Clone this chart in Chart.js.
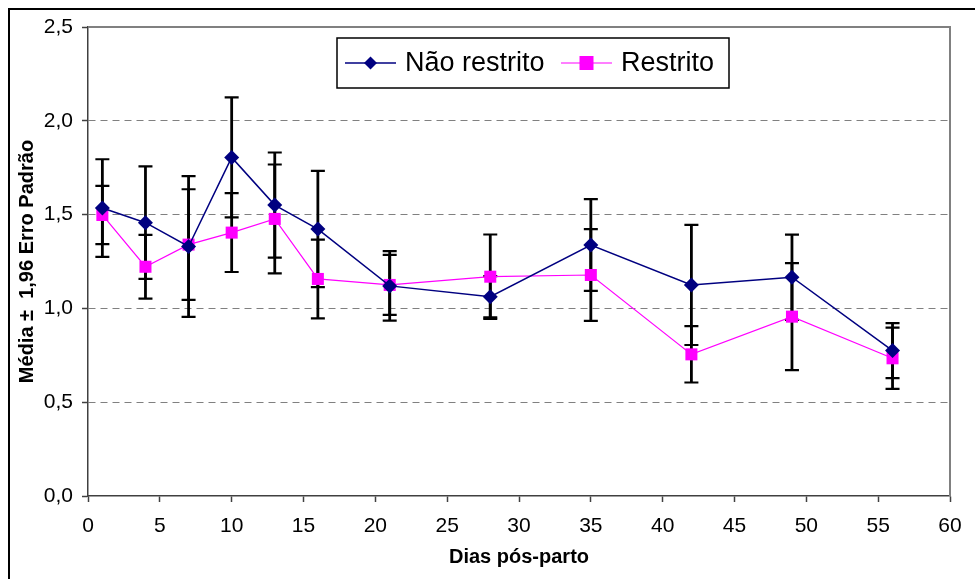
<!DOCTYPE html>
<html>
<head>
<meta charset="utf-8">
<script src="https://cdn.jsdelivr.net/npm/chart.js@4"></script>
<style>
  html, body { margin: 0; padding: 0; background: #fff; }
</style>
</head>
<body>
<canvas id="chart" width="975" height="579"></canvas>
<script>
// dias pós-parto
const days = [1, 4, 7, 10, 13, 16, 21, 28, 35, 42, 49, 56];

// médias e meia-largura (1,96 x erro padrão)
const naoRestrito    = [1.535, 1.457, 1.33, 1.805, 1.551, 1.423, 1.12, 1.062, 1.338, 1.125, 1.166, 0.775];
const naoRestritoErr = [0.26, 0.30, 0.375, 0.32, 0.28, 0.31, 0.185, 0.11, 0.245, 0.32, 0.227, 0.147];
const restrito       = [1.498, 1.222, 1.34, 1.404, 1.477, 1.157, 1.125, 1.169, 1.178, 0.755, 0.956, 0.734];
const restritoErr    = [0.155, 0.17, 0.295, 0.21, 0.29, 0.21, 0.16, 0.225, 0.245, 0.15, 0.285, 0.163];

const seriesNames = ['Não restrito', 'Restrito'];
const yTicks = [0, 0.5, 1, 1.5, 2, 2.5];
const xTicks = [0, 5, 10, 15, 20, 25, 30, 35, 40, 45, 50, 55, 60];

const FONT = '"Liberation Sans", Arial, sans-serif';
const fmt = v => v.toFixed(1).replace('.', ',');

const toPoints = vals => days.map((d, i) => ({ x: d, y: vals[i] }));

// moldura externa + borda da área do gráfico
const framePlugin = {
  id: 'frame',
  beforeDraw(chart) {
    const ctx = chart.ctx;
    ctx.save();
    ctx.fillStyle = '#fff';
    ctx.fillRect(0, 0, chart.width, chart.height);
    ctx.strokeStyle = '#000';
    ctx.lineWidth = 2;
    ctx.beginPath();
    ctx.moveTo(9, chart.height + 5);
    ctx.lineTo(9, 9);
    ctx.lineTo(chart.width + 5, 9);
    ctx.stroke();
    ctx.restore();
  },
  beforeDatasetsDraw(chart) {
    const { ctx, chartArea: a } = chart;
    ctx.save();
    ctx.strokeStyle = '#808080';
    ctx.lineWidth = 2;
    ctx.beginPath();
    ctx.moveTo(a.left, a.top);
    ctx.lineTo(a.right, a.top);
    ctx.lineTo(a.right, a.bottom);
    ctx.stroke();
    ctx.restore();
  }
};

// barras de erro desenhadas pelas escalas
const errorBarPlugin = {
  id: 'errorBars',
  beforeDatasetsDraw(chart) {
    const { ctx, scales: { x, y } } = chart;
    ctx.save();
    ctx.strokeStyle = '#000';
    chart.data.datasets.forEach(ds => {
      ds.data.forEach((p, i) => {
        const e = ds.errors[i];
        const px = x.getPixelForValue(p.x);
        const top = y.getPixelForValue(p.y + e);
        const bot = y.getPixelForValue(p.y - e);
        ctx.lineWidth = 2.8;
        ctx.beginPath();
        ctx.moveTo(px, top);
        ctx.lineTo(px, bot);
        ctx.stroke();
        ctx.lineWidth = 2.2;
        ctx.beginPath();
        ctx.moveTo(px - 7, top);
        ctx.lineTo(px + 7, top);
        ctx.moveTo(px - 7, bot);
        ctx.lineTo(px + 7, bot);
        ctx.stroke();
      });
    });
    ctx.restore();
  }
};

// legenda com caixa, como no original
const legendBoxPlugin = {
  id: 'legendBox',
  afterDraw(chart) {
    const ctx = chart.ctx;
    const bx = 337, by = 38, bw = 392, bh = 50;
    const cy = by + 25;
    const starts = [345, 561];
    ctx.save();
    ctx.fillStyle = '#fff';
    ctx.fillRect(bx, by, bw, bh);
    ctx.strokeStyle = '#000';
    ctx.lineWidth = 1.5;
    ctx.strokeRect(bx, by, bw, bh);
    chart.data.datasets.forEach((ds, i) => {
      const x0 = starts[i];
      ctx.strokeStyle = ds.borderColor;
      ctx.lineWidth = ds.borderWidth;
      ctx.beginPath();
      ctx.moveTo(x0, cy);
      ctx.lineTo(x0 + 51, cy);
      ctx.stroke();
      const mx = x0 + 25.5;
      ctx.fillStyle = ds.pointBackgroundColor;
      ctx.beginPath();
      if (ds.pointStyle === 'rectRot') {
        const r = 6.5;
        ctx.moveTo(mx, cy - r);
        ctx.lineTo(mx + r, cy);
        ctx.lineTo(mx, cy + r);
        ctx.lineTo(mx - r, cy);
        ctx.closePath();
      } else {
        ctx.rect(mx - 7, cy - 7, 14, 14);
      }
      ctx.fill();
      ctx.fillStyle = '#000';
      ctx.font = '27px ' + FONT;
      ctx.textBaseline = 'middle';
      ctx.textAlign = 'left';
      ctx.fillText(ds.label, x0 + 60, cy + 1);
    });
    ctx.restore();
  }
};

new Chart(document.getElementById('chart'), {
  type: 'line',
  data: {
    datasets: [
      {
        label: seriesNames[0],
        data: toPoints(naoRestrito),
        errors: naoRestritoErr,
        borderColor: '#000080',
        backgroundColor: '#000080',
        pointBackgroundColor: '#000080',
        pointBorderColor: '#000080',
        borderWidth: 1.5,
        pointStyle: 'rectRot',
        pointRadius: 7.5,
        pointBorderWidth: 0,
        tension: 0
      },
      {
        label: seriesNames[1],
        data: toPoints(restrito),
        errors: restritoErr,
        borderColor: '#FF00FF',
        backgroundColor: '#FF00FF',
        pointBackgroundColor: '#FF00FF',
        pointBorderColor: '#FF00FF',
        borderWidth: 1.2,
        pointStyle: 'rect',
        pointRadius: 8.5,
        pointBorderWidth: 0,
        tension: 0
      }
    ]
  },
  options: {
    responsive: false,
    animation: false,
    layout: { padding: { left: 0, top: 27, right: 25, bottom: 0 } },
    plugins: {
      legend: { display: false },
      tooltip: { enabled: false }
    },
    scales: {
      x: {
        type: 'linear',
        min: 0,
        max: 60,
        afterBuildTicks: s => { s.ticks = xTicks.map(v => ({ value: v })); },
        afterFit: s => { s.height = 83; },
        ticks: {
          color: '#000',
          font: { family: FONT, size: 21 },
          padding: 12,
          maxRotation: 0,
          callback: v => String(v)
        },
        grid: {
          drawOnChartArea: false,
          tickLength: 6,
          tickColor: '#404040',
          tickWidth: 1.5
        },
        border: { color: '#404040', width: 1.5 },
        title: {
          display: true,
          text: 'Dias pós-parto',
          color: '#000',
          font: { family: FONT, size: 20, weight: 'bold' },
          padding: { top: 0, bottom: 10 }
        }
      },
      y: {
        min: 0,
        max: 2.5,
        afterBuildTicks: s => { s.ticks = yTicks.map(v => ({ value: v })); },
        afterFit: s => { s.width = 88; },
        ticks: {
          color: '#000',
          font: { family: FONT, size: 21 },
          padding: 9,
          callback: v => fmt(v)
        },
        grid: {
          color: c => (c.tick && (c.tick.value === 0 || c.tick.value === 2.5)) ? 'rgba(0,0,0,0)' : '#808080',
          lineWidth: 1,
          tickLength: 6,
          tickColor: '#404040',
          tickWidth: 1.5
        },
        border: { color: '#404040', width: 1.5, dash: [7, 5] },
        title: {
          display: true,
          text: 'Média ±  1,96 Erro Padrão',
          color: '#000',
          font: { family: FONT, size: 20, weight: 'bold' },
          padding: { top: 15, bottom: 0 }
        }
      }
    }
  },
  plugins: [framePlugin, errorBarPlugin, legendBoxPlugin]
});
</script>
</body>
</html>
